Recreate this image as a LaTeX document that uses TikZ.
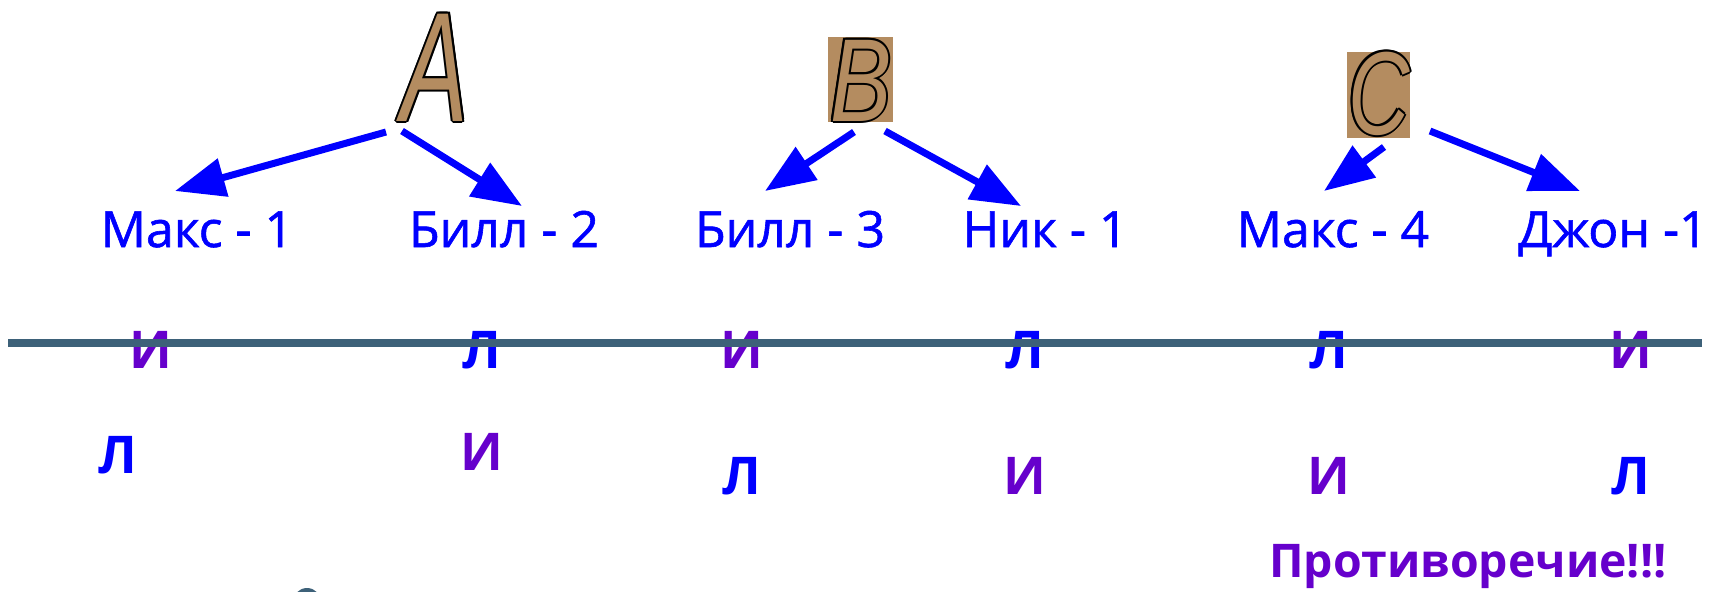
\documentclass[tikz,border=0pt]{standalone}
\usepackage{fontspec}
\usepackage{graphicx}
\setmainfont{Open Sans}
\newfontfamily\labfont{Open Sans}[FakeBold=1.2]
\newfontfamily\letfont{Liberation Sans}
\usetikzlibrary{arrows.meta}
\definecolor{myblue}{HTML}{0000FF}
\definecolor{mypurple}{HTML}{6600CC}
\definecolor{linecol}{HTML}{3D6179}
\definecolor{paper}{HTML}{B48C60}
\begin{document}
\begin{tikzpicture}[x=0.5pt,y=-0.5pt,
  lab/.style={text=myblue, font=\labfont\fontsize{25}{25}\selectfont, anchor=base, inner sep=0pt},
  iltr/.style={text=mypurple, font=\bfseries\fontsize{26}{26}\selectfont, anchor=base, inner sep=0pt},
  lltr/.style={text=myblue, font=\bfseries\fontsize{26}{26}\selectfont, anchor=base, inner sep=0pt},
  warn/.style={text=mypurple, font=\bfseries\fontsize{23.2}{24}\selectfont, anchor=base, inner sep=0pt},
  arr/.style={draw=myblue, line width=3.5pt, -{Triangle[length=25pt,width=19pt]}},
  bigA/.style={font=\letfont\itshape\fontsize{78}{78}\selectfont, anchor=base, inner sep=0pt},
  bigB/.style={font=\letfont\itshape\fontsize{59}{59}\selectfont, anchor=base, inner sep=0pt},
  divider/.style={draw=linecol, line width=3.75pt},
]
\useasboundingbox (0,0) rectangle (1719,591);
% letter A
\foreach \dx/\dy [count=\k] in {-2/0,2/0,0/-2,0/2,-1.4/-1.4,1.4/-1.4,-1.4/1.4,1.4/1.4}
  \node[bigA, text=black] (Ash\k) at (435+\dx,121+\dy) {\scalebox{0.64}[1]{A}};
\node[bigA, text=paper] (A) at (435,121) {\scalebox{0.64}[1]{A}};
% letter B
\fill[paper] (828,37) rectangle (893,122);
\foreach \dx/\dy [count=\k] in {-2/0,2/0,0/-2,0/2,-1.4/-1.4,1.4/-1.4,-1.4/1.4,1.4/1.4}
  \node[bigB, text=black] (Bsh\k) at (861+\dx,121+\dy) {\scalebox{0.78}[1]{B}};
\node[bigB, text=paper] (B) at (861,121) {\scalebox{0.78}[1]{B}};
% letter C
\fill[paper] (1347,52) rectangle (1410,138);
\foreach \dx/\dy [count=\k] in {-2/0,2/0,0/-2,0/2,-1.4/-1.4,1.4/-1.4,-1.4/1.4,1.4/1.4}
  \node[bigB, text=black] (Csh\k) at (1379+\dx,134+\dy) {\scalebox{0.72}[1]{C}};
\node[bigB, text=paper] (C) at (1379,134) {\scalebox{0.72}[1]{C}};
% labels
\node[lab] (m1) at (197,247) {Макс - 1};
\node[lab] (b2) at (504,247) {Билл - 2};
\node[lab] (b3) at (790,247) {Билл - 3};
\node[lab] (n1) at (1045,247) {Ник - 1};
\node[lab] (m4) at (1333,247) {Макс - 4};
\node[lab] (d1) at (1613,247) {Джон -1};
% arrow coordinates
\coordinate (a1s) at (386,132); \coordinate (a1e) at (175,191);
\coordinate (a2s) at (402,131); \coordinate (a2e) at (522,206);
\coordinate (b1s) at (854,132); \coordinate (b1e) at (765,191);
\coordinate (b2s) at (885,131); \coordinate (b2e) at (1021,206);
\coordinate (c1s) at (1384,147); \coordinate (c1e) at (1324,191);
\coordinate (c2s) at (1430,131); \coordinate (c2e) at (1580,191);
\draw[arr] (a1s) -- (a1e);
\draw[arr] (a2s) -- (a2e);
\draw[arr] (b1s) -- (b1e);
\draw[arr] (b2s) -- (b2e);
\draw[arr] (c1s) -- (c1e);
\draw[arr] (c2s) -- (c2e);
% first row of letters
\node[iltr] (r1a) at (151,368) {И};
\node[lltr] (r1b) at (482,368) {Л};
\node[iltr] (r1c) at (742,368) {И};
\node[lltr] (r1d) at (1025,368) {Л};
\node[lltr] (r1e) at (1329,368) {Л};
\node[iltr] (r1f) at (1631,368) {И};
% divider
\coordinate (L1) at (8,343); \coordinate (L2) at (1702,343);
\draw[divider] (L1) -- (L2);
% second row
\node[lltr] (r2a) at (118,473) {Л};
\node[iltr] (r2b) at (482,470) {И};
\node[lltr] (r2c) at (742,494) {Л};
\node[iltr] (r2d) at (1025,494) {И};
\node[iltr] (r2e) at (1329,494) {И};
\node[lltr] (r2f) at (1631,494) {Л};
% contradiction
\node[warn] (contra) at (1468,577) {Противоречие!!!};
% partial shape at bottom edge
\begin{scope}
\clip (0,0) rectangle (1719,591);
\fill[linecol] (307,602) circle[radius=14];
\end{scope}
\end{tikzpicture}
\end{document}
